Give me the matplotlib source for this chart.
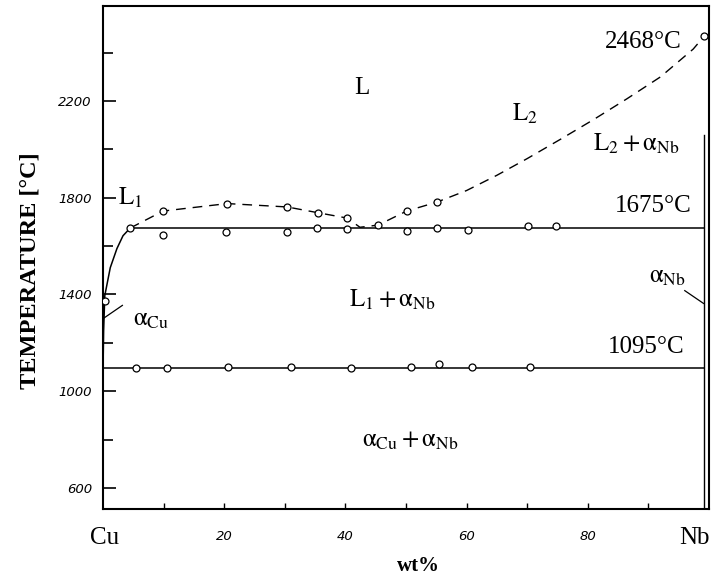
import matplotlib
matplotlib.use("Agg")
import matplotlib.pyplot as plt

# --- data ---
# Cu-side liquidus (solid)
liq_cu_x = [0.0, 0.1, 0.3, 1.2, 2.3, 3.3, 4.5]
liq_cu_t = [1084, 1250, 1396, 1511, 1590, 1643, 1675]

# miscibility gap + Nb liquidus (dashed)
dash_x = [4.5, 9.9, 20.5, 30.4, 35.5, 40.3, 42.4, 45.4, 50.1, 55.1, 60.0,
          65.0, 70.0, 75.5, 81.0, 86.5, 92.0, 97.4, 99.2]
dash_t = [1675, 1745, 1776, 1762, 1738, 1716, 1678, 1687, 1745, 1782, 1830,
          1893, 1962, 2042, 2124, 2210, 2300, 2415, 2468]

# measured points
pts_liq_x = [0.3, 4.5, 9.9, 20.5, 30.4, 35.5, 40.3, 45.4, 50.1, 55.1, 99.2]
pts_liq_t = [1375, 1675, 1745, 1776, 1762, 1738, 1716, 1687, 1745, 1782, 2468]

pts_mono_x = [9.9, 20.3, 30.4, 35.3, 40.3, 50.2, 55.1, 60.2, 70.1, 74.8]
pts_mono_t = [1646, 1659, 1659, 1675, 1671, 1663, 1675, 1667, 1682, 1682]

pts_eut_x = [5.4, 10.6, 20.6, 31.0, 40.9, 50.8, 55.4, 60.9, 70.5]
pts_eut_t = [1095, 1095, 1100, 1100, 1097, 1099, 1112, 1099, 1100]

# invariant lines / solvus
t_mono = 1675
t_eut = 1095
nb_solvus_x = 99.1
nb_solvus_top = 2060

y_major = [600, 1000, 1400, 1800, 2200]
y_minor = [800, 1200, 1600, 2000, 2400]
x_labels = ["20", "40", "60", "80"]

plt.rcParams["font.family"] = ["Liberation Serif", "DejaVu Serif"]
plt.rcParams["mathtext.fontset"] = "stix"

fig = plt.figure(figsize=(7.22, 5.77), dpi=100)
ax = fig.add_axes([103 / 722, 1 - 509 / 577, 606 / 722, 503 / 577])
ax.set_xlim(0, 100)
ax.set_ylim(513, 2593)

k = "black"
ax.plot(liq_cu_x, liq_cu_t, color=k, lw=1.1)
ax.plot(dash_x, dash_t, color=k, lw=1.0, ls=(0, (7, 5)))
ax.plot([liq_cu_x[-1], nb_solvus_x], [t_mono, t_mono], color=k, lw=1.1)
ax.plot([0, nb_solvus_x], [t_eut, t_eut], color=k, lw=1.1)
ax.plot([nb_solvus_x, nb_solvus_x], [513, nb_solvus_top], color=k, lw=1.0)

mk = dict(ls="none", marker="o", ms=5, mfc="white", mec=k, mew=0.9, zorder=3)
ax.plot(pts_liq_x, pts_liq_t, **mk)
ax.plot(pts_mono_x, pts_mono_t, **mk)
ax.plot(pts_eut_x, pts_eut_t, **mk)

# leader lines
ax.plot([0.0, 3.2], [1300, 1355], color=k, lw=0.9)
ax.plot([96.0, 99.1], [1416, 1363], color=k, lw=0.9)

# region labels
fs = 18
ax.text(42.7, 2254, "L", fontsize=fs, ha="center", va="center")
ax.text(69.6, 2146, r"$\mathrm{L_2}$", fontsize=fs, ha="center", va="center")
ax.text(88.1, 2023, r"$\mathrm{L_2 + \alpha_{Nb}}$", fontsize=fs, ha="center", va="center")
ax.text(95.5, 2443, "2468°C", fontsize=fs, ha="right", va="center")
ax.text(97.2, 1767, "1675°C", fontsize=fs, ha="right", va="center")
ax.text(96.0, 1181, "1095°C", fontsize=fs, ha="right", va="center")
ax.text(4.5, 1800, r"$\mathrm{L_1}$", fontsize=fs, ha="center", va="center")
ax.text(47.7, 1379, r"$\mathrm{L_1 + \alpha_{Nb}}$", fontsize=fs, ha="center", va="center")
ax.text(50.7, 794, r"$\mathrm{\alpha_{Cu} + \alpha_{Nb}}$", fontsize=fs, ha="center", va="center")
ax.text(7.9, 1293, r"$\mathrm{\alpha_{Cu}}$", fontsize=fs, ha="center", va="center")
ax.text(93.2, 1474, r"$\mathrm{\alpha_{Nb}}$", fontsize=fs, ha="center", va="center")

# axes styling
for s in ax.spines.values():
    s.set_linewidth(1.5)
ax.set_yticks(y_major)
ax.set_yticklabels([str(v) for v in y_major], fontfamily="DejaVu Sans",
                   fontstyle="italic", fontsize=9.5)
ax.set_yticks(y_minor, minor=True)
ax.tick_params(axis="y", which="major", direction="in", length=9, width=1.2, pad=8)
ax.tick_params(axis="y", which="minor", direction="in", length=7, width=1.2)

ax.set_xticks([20, 40, 60, 80])
ax.set_xticklabels(x_labels, fontfamily="DejaVu Sans", fontstyle="italic", fontsize=9.5)
ax.set_xticks([10, 30, 50, 70, 90], minor=True)
ax.tick_params(axis="x", which="both", direction="in", length=4, width=1.0, pad=15)

tr = ax.get_xaxis_transform()
ax.text(0.3, -0.058, "Cu", transform=tr, fontsize=18, ha="center", va="center")
ax.text(97.6, -0.058, "Nb", transform=tr, fontsize=18, ha="center", va="center")

fig.text(418 / 722, 1 - 566 / 577, "wt%", fontsize=15, fontweight="bold",
         ha="center", va="center")
fig.text(30 / 722, 1 - 271 / 577, "TEMPERATURE [°C]", fontsize=17.5,
         fontweight="bold", rotation=90, ha="center", va="center")

fig.savefig("out.png", dpi=100)
